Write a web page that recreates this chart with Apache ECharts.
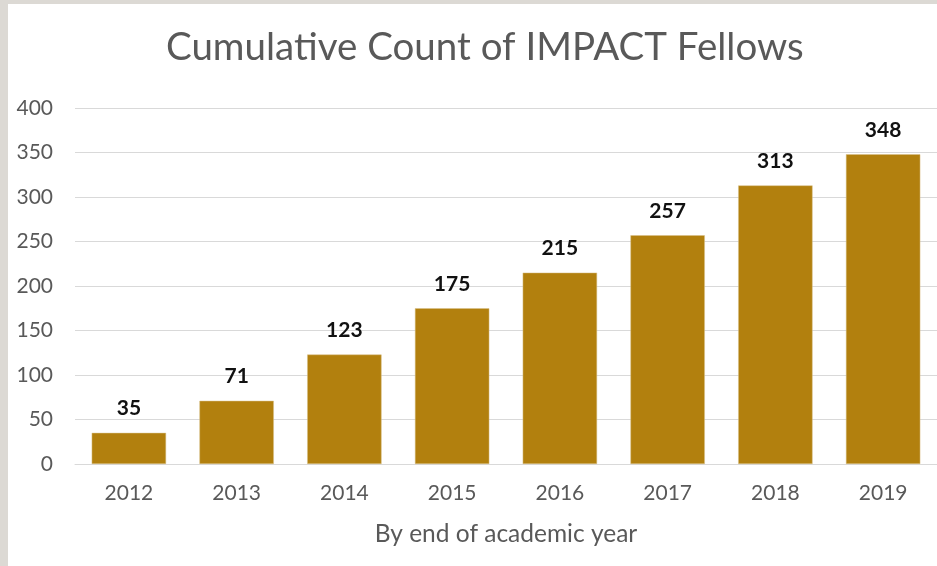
<!DOCTYPE html>
<html><head><meta charset="utf-8">
<script src="https://cdn.jsdelivr.net/npm/echarts@6/dist/echarts.min.js"></script>
<style>html,body{margin:0;padding:0;background:#fff}#c{width:937px;height:566px}</style>
</head><body><div id="c"></div>
<script>
const years = ['2012','2013','2014','2015','2016','2017','2018','2019'];
const fellows = [35, 71, 123, 175, 215, 257, 313, 348];
const yTicks = { min: 0, max: 400, interval: 50 };
const FONT = 'Lato';
const chart = echarts.init(document.getElementById('c'));
chart.setOption({
  backgroundColor: '#ffffff',
  animation: false,
  graphic: [
    { type: 'rect', left: 0, top: 0, shape: { width: 937, height: 4 }, style: { fill: '#dcd9d4' } },
    { type: 'rect', left: 0, top: 0, shape: { width: 8, height: 566 }, style: { fill: '#dcd9d4' } }
  ],
  title: {
    text: 'Cumulative Count of IMPACT Fellows',
    left: 166, top: 28, padding: 0,
    textStyle: { fontFamily: FONT, fontSize: 38.5, fontWeight: 'normal', color: '#595959' }
  },
  grid: { left: 75, right: 0, top: 108, bottom: 102, containLabel: false },
  xAxis: {
    type: 'category', data: years,
    name: 'By end of academic year', nameLocation: 'middle', nameGap: 58,
    nameTextStyle: { fontFamily: FONT, fontSize: 24.5, color: '#595959' },
    axisLine: { show: true, lineStyle: { color: '#d9d9d9', width: 1 } },
    axisTick: { show: false },
    axisLabel: { fontFamily: FONT, fontSize: 21, color: '#595959', margin: 19 }
  },
  yAxis: {
    type: 'value', min: yTicks.min, max: yTicks.max, interval: yTicks.interval,
    axisLine: { show: false }, axisTick: { show: false },
    splitLine: { lineStyle: { color: '#d9d9d9', width: 1 } },
    axisLabel: { fontFamily: FONT, fontSize: 21, color: '#595959', margin: 22 }
  },
  series: [{
    type: 'bar', data: fellows, barCategoryGap: '31%',
    itemStyle: { color: '#b2800e', borderColor: '#d9c08a', borderWidth: 0.5 },
    label: { show: true, position: 'top', distance: 14, fontFamily: FONT, fontSize: 21, fontWeight: 'bold', color: '#111' }
  }]
});
</script></body></html>
